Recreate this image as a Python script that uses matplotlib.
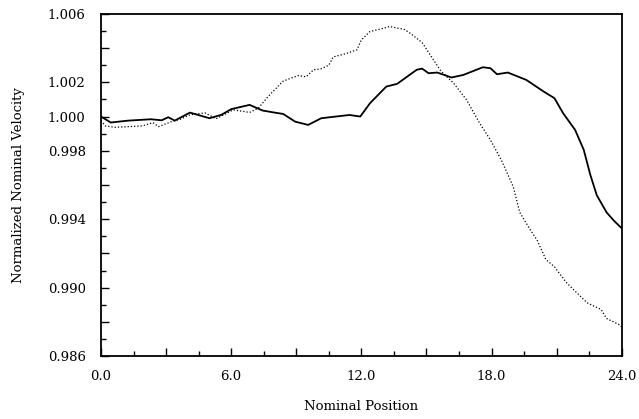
import numpy as np
import matplotlib
matplotlib.use('Agg')
import matplotlib.pyplot as plt
from matplotlib.ticker import FixedLocator, MultipleLocator

# %% data
solid_x = [0.0, 0.45, 1.25, 2.3, 2.8, 3.1, 3.4, 4.1, 5.0, 5.55, 6.0, 6.85, 7.45, 8.0,
           8.4, 8.95, 9.55, 10.15, 11.45, 11.95, 12.4, 13.15, 13.65, 14.55, 14.8, 15.1,
           15.5, 16.15, 16.7, 17.6, 17.95, 18.25, 18.75, 19.6, 20.4, 20.9, 21.3, 21.85,
           22.25, 22.55, 22.85, 23.3, 23.65, 24.0]
solid_y = [1.00000, 0.99965, 0.99976, 0.99984, 0.99978, 0.99996, 0.99976, 1.00023, 0.99990,
           1.00010, 1.00043, 1.00068, 1.00035, 1.00023, 1.00015, 0.99970, 0.99951, 0.99990,
           1.00009, 1.00000, 1.00078, 1.00175, 1.00191, 1.00273, 1.00280, 1.00253, 1.00257,
           1.00228, 1.00243, 1.00288, 1.00282, 1.00247, 1.00257, 1.00214, 1.00146, 1.00107,
           1.00019, 0.99922, 0.99805, 0.99660, 0.99540, 0.99440, 0.99390, 0.99347]

dot_x = [0.0, 0.2, 0.65, 1.9, 2.4, 2.65, 3.25, 3.65, 4.1, 4.8, 5.3, 6.1, 6.85, 7.25, 7.7,
         8.0, 8.4, 9.1, 9.45, 9.8, 10.15, 10.5, 10.7, 11.25, 11.8, 12.0, 12.4, 12.85, 13.3,
         14.0, 14.35, 14.8, 15.2, 15.65, 16.25, 16.85, 17.45, 17.95, 18.45, 19.0, 19.3,
         19.8, 20.1, 20.5, 20.9, 21.45, 21.8, 22.4, 23.05, 23.3, 23.9, 24.0]
dot_y = [0.99976, 0.99945, 0.99937, 0.99945, 0.99964, 0.99941, 0.99970, 0.99984, 1.00010,
         1.00021, 0.99987, 1.00039, 1.00024, 1.00049, 1.00116, 1.00156, 1.00207, 1.00240,
         1.00232, 1.00273, 1.00279, 1.00300, 1.00348, 1.00366, 1.00390, 1.00448, 1.00497,
         1.00510, 1.00526, 1.00508, 1.00477, 1.00432, 1.00355, 1.00268, 1.00195, 1.00097,
         0.99961, 0.99863, 0.99746, 0.99590, 0.99440, 0.99335, 0.99278, 0.99165, 0.99122,
         0.99030, 0.98986, 0.98912, 0.98872, 0.98820, 0.98783, 0.98770]

x_ticks = [0, 3, 6, 9, 12, 15, 18, 21, 24]
x_labels = ['0.0', '', '6.0', '', '12.0', '', '18.0', '', '24.0']
y_ticks = [0.986, 0.988, 0.990, 0.992, 0.994, 0.996, 0.998, 1.000, 1.002, 1.004, 1.006]
y_labels = ['0.986', '', '0.990', '', '0.994', '', '0.998', '1.000', '1.002', '', '1.006']

# %% plot
plt.rcParams['font.family'] = ['DejaVu Serif']
fig = plt.figure(figsize=(6.39, 4.19), dpi=100)
ax = fig.add_axes([0.158, 0.150, 0.815, 0.817])

ax.plot(solid_x, solid_y, color='black', lw=1.3)
ax.plot(dot_x, dot_y, color='black', lw=0.9, linestyle=(0, (1, 1.6)))

ax.set_xlim(0, 24)
ax.set_ylim(0.986, 1.006)
ax.xaxis.set_major_locator(FixedLocator(x_ticks))
ax.set_xticklabels(x_labels)
ax.xaxis.set_minor_locator(MultipleLocator(1.5))
ax.yaxis.set_major_locator(FixedLocator(y_ticks))
ax.set_yticklabels(y_labels)
ax.yaxis.set_minor_locator(MultipleLocator(0.001))

ax.tick_params(which='both', direction='in', top=False, right=False, labelsize=9.5, width=1)
ax.tick_params(which='major', length=6)
ax.tick_params(which='minor', length=3.5)
ax.tick_params(axis='x', which='major', pad=10)
ax.tick_params(axis='y', which='major', pad=11)

for sp in ax.spines.values():
    sp.set_linewidth(1.3)

ax.set_xlabel('Nominal Position', fontsize=9.5, labelpad=12)
ax.set_ylabel('Normalized Nominal Velocity', fontsize=9.5, labelpad=16)

plt.savefig('out.png', dpi=100)
